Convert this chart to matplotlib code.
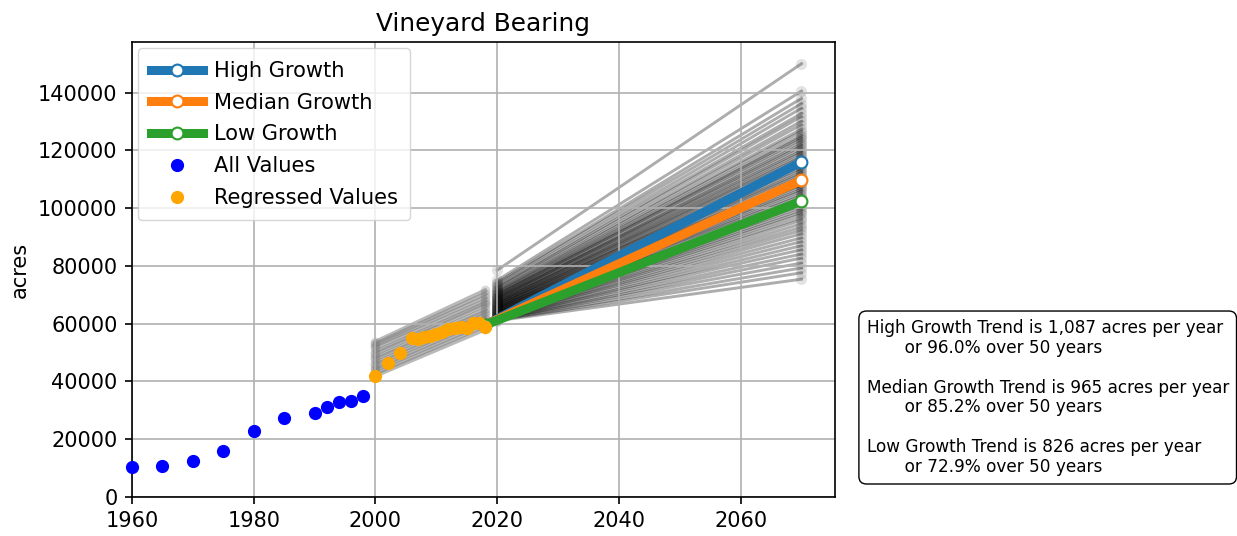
import matplotlib
matplotlib.use("Agg")
import matplotlib.pyplot as plt

# observed acreage
all_years = [1960, 1965, 1970, 1975, 1980, 1985, 1990, 1992, 1994, 1996, 1998]
all_acres = [10400, 10800, 12400, 15900, 23000, 27400, 28900, 31000, 32900, 33200, 34800]

reg_years = [2000, 2002, 2004, 2006, 2007, 2008, 2009, 2010, 2011, 2012, 2013,
             2014, 2015, 2016, 2017, 2018]
reg_acres = [41900, 46300, 50000, 55000, 54700, 55300, 55600, 56500, 57200, 58300,
             58500, 59000, 58600, 60200, 60400, 58800]

# resampled fits over the regressed period (value at 2000, value at 2018)
hist_start = [42000, 42800, 43900, 44600, 45800, 46500, 47700, 48400, 49600, 50300,
              51500, 52400, 53000, 53700]
hist_end = [58000, 59200, 60100, 61300, 62000, 63200, 64100, 65000, 66300, 67100,
            68000, 69200, 70300, 71500]

# resampled projections (value at 2020, value at 2070)
fan_start = [78500, 75000, 74200, 73800, 73000, 72600, 72100, 71500, 71200, 70800,
             70500, 70100, 69800, 69900, 69300, 69000, 68800, 68900, 68400, 68100,
             67900, 67600, 67700, 67200, 67000, 66800, 66900, 66400, 66200, 66300,
             65900, 65700, 65500, 65600, 65200, 65000, 65100, 64700, 64500, 64600,
             64200, 64000, 64100, 63800, 63600, 63700, 63300, 63100, 63200, 62900,
             62700, 62800, 62500, 62300, 62400, 62100, 61900, 62000, 61700, 61500,
             61600, 61300, 61200, 61000]
fan_end = [150000, 140500, 138000, 136200, 134600, 132800, 131700, 130100, 128900, 127400,
           126500, 125300, 124600, 123900, 123000, 122100, 121500, 120600, 119800, 119200,
           118300, 117700, 116900, 116100, 115400, 114700, 113900, 113200, 112400, 111800,
           111000, 110200, 109600, 108700, 108000, 107300, 106500, 105900, 105000, 104300,
           103500, 102600, 101900, 101000, 100300, 99400, 98600, 97800, 96700, 95800,
           94600, 93400, 92300, 91100, 89700, 88400, 87000, 85600, 84100, 82700,
           81000, 79300, 77600, 75400]

# trend lines
trend_names = ["High Growth", "Median Growth", "Low Growth"]
trend_slopes = [1087, 965, 826]
trend_pct = [96.0, 85.2, 72.9]
trend_colors = ["#1f77b4", "#ff7f0e", "#2ca02c"]
trend_x0, trend_x1 = 2018, 2070
trend_y0 = 59500

plt.rcParams["axes.linewidth"] = 1.2
plt.rcParams["grid.linewidth"] = 1.2

plt.figure(figsize=(12.37, 5.36), dpi=100)
ax = plt.axes([0.1067, 0.0728, 0.5683, 0.8488])

for a, b in zip(hist_start, hist_end):
    plt.plot([2000, 2018], [a, b], color=(0.5, 0.5, 0.5, 0.55), lw=3,
             marker="o", ms=7, mew=0, mfc=(0.5, 0.5, 0.5, 0.3), zorder=1)

for a, b in zip(fan_start, fan_end):
    plt.plot([2020, 2070], [a, b], color=(0, 0, 0, 0.32), lw=2.1,
             marker="o", ms=8, mew=0, mfc=(0.1, 0.1, 0.1, 0.12), zorder=1)

for name, slope, c in zip(trend_names, trend_slopes, trend_colors):
    y1 = trend_y0 + slope * (trend_x1 - trend_x0)
    plt.plot([trend_x0, trend_x1], [trend_y0, y1], color=c, lw=6.5,
             marker="o", ms=8.5, mfc="white", mec=c, mew=1.5, label=name, zorder=3)

plt.plot(all_years, all_acres, "o", color="blue", ms=8.5, label="All Values",
         zorder=4, clip_on=False)
plt.plot(reg_years, reg_acres, "o", color="orange", ms=8.5, label="Regressed Values",
         zorder=4)

plt.xlim(1960, 2075.5)
plt.ylim(0, 157500)
plt.grid(True)
plt.tick_params(labelsize=15, length=5.2, width=1.2, pad=5.2)
plt.ylabel("acres", fontsize=15, labelpad=6)
plt.title("Vineyard Bearing", fontsize=17.8, pad=8)
plt.legend(loc="upper left", fontsize=15.1, handlelength=2.5, handletextpad=0.5,
           labelspacing=0.56, borderaxespad=0.3, borderpad=0.6)

lines = []
for name, slope, pct in zip(trend_names, trend_slopes, trend_pct):
    lines.append(f"{name} Trend is {slope:,} acres per year\n"
                 f"       or {pct:.1f}% over 50 years")
plt.gcf().text(0.7005, 0.4055, "\n\n".join(lines), fontsize=12.2, va="top", ha="left",
               linespacing=1.14,
               bbox=dict(boxstyle="round,pad=0.45", facecolor="white", edgecolor="black"))

plt.savefig("out.png", dpi=100)
